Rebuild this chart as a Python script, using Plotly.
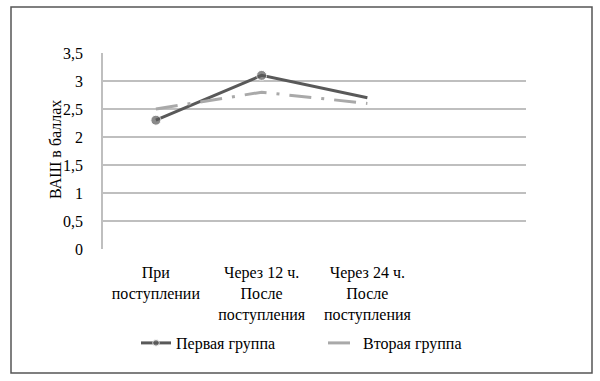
import plotly.graph_objects as go

categories = ["При<br>поступлении", "Через 12 ч.<br>После<br>поступления",
              "Через 24 ч.<br>После<br>поступления", " "]
group1 = [2.3, 3.1, 2.7]
group2 = [2.5, 2.8, 2.6]
names = ["Первая группа", "Вторая группа"]
yticks = [0, 0.5, 1, 1.5, 2, 2.5, 3, 3.5]

FONT = "Liberation Serif, Times New Roman, DejaVu Serif, serif"

fig = go.Figure()
fig.add_trace(go.Scatter(
    x=categories[:3], y=group1, name=names[0], mode="lines+markers",
    line=dict(color="#595959", width=3),
    marker=dict(size=[10, 10, 0], color="#595959"),
))
fig.add_trace(go.Scatter(
    x=categories[:3], y=group2, name=names[1], mode="lines",
    line=dict(color="#a9a9a9", width=3, dash="22px,10px,3px,10px"),
))

L, R, T, B = 103, 526, 53, 249
W, H = 600, 381
pw, ph = R - L, B - T

def px(x):
    return (x - L) / pw

def py(y):
    return (B - y) / ph

fig.update_layout(
    width=W, height=H,
    margin=dict(l=L, r=W - R, t=T, b=H - B, autoexpand=False),
    paper_bgcolor="white", plot_bgcolor="white",
    separators=", ",
    font=dict(family=FONT, size=16, color="black"),
    hovermode=False,
    showlegend=True,
    legend=dict(orientation="h", xref="container", x=136 / W, xanchor="left",
                yref="container", y=1 - 343 / H, yanchor="middle",
                font=dict(family=FONT, size=16, color="black"),
                itemwidth=30, tracegroupgap=0, entrywidth=142, entrywidthmode="pixels"),
    xaxis=dict(type="category", categoryorder="array", categoryarray=categories,
               range=[-0.5, 3.5], showgrid=False, zeroline=False, showline=False,
               ticks="", ticklabelstandoff=12, fixedrange=True,
               tickfont=dict(family=FONT, size=16, color="black")),
    yaxis=dict(range=[0, 3.5], tickvals=yticks, showgrid=True, gridcolor="#bfbfbf",
               gridwidth=1.5, zeroline=False, showline=True, linecolor="#bfbfbf",
               linewidth=1.5, ticks="", ticklabelstandoff=15, fixedrange=True,
               tickfont=dict(family=FONT, size=16, color="black")),
    annotations=[dict(text="ВАШ в баллах", xref="paper", yref="paper",
                      x=px(55), y=py(150), textangle=-90, showarrow=False,
                      xanchor="center", yanchor="middle",
                      font=dict(family=FONT, size=16, color="black"))],
    shapes=[dict(type="rect", xref="paper", yref="paper",
                 x0=px(11), x1=px(592), y0=py(373), y1=py(7),
                 line=dict(color="#555555", width=1.5), fillcolor="rgba(0,0,0,0)",
                 layer="below")],
)

fig.write_html("out.html", post_script="document.body.style.margin='0';",
               config=dict(displayModeBar=False))
